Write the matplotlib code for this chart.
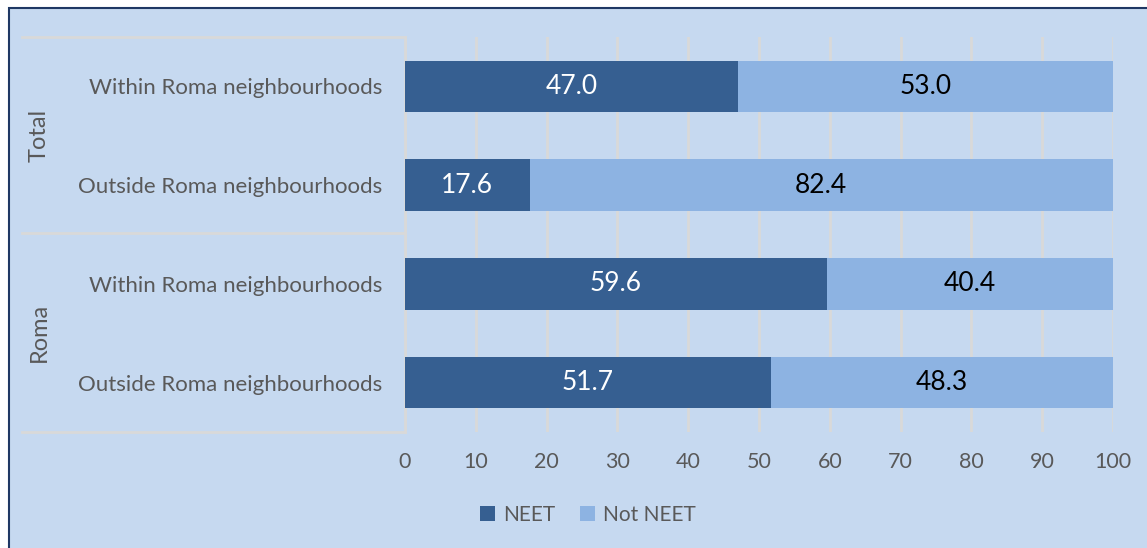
import matplotlib.pyplot as plt
from matplotlib.patches import Rectangle
from matplotlib.lines import Line2D
import numpy as np

plt.rcParams['font.family'] = ['Lato', 'DejaVu Sans']

groups = ['Total', 'Roma']
categories = ['Within Roma neighbourhoods', 'Outside Roma neighbourhoods',
              'Within Roma neighbourhoods', 'Outside Roma neighbourhoods']
neet = [47.0, 17.6, 59.6, 51.7]
not_neet = [53.0, 82.4, 40.4, 48.3]
xticks = [0, 10, 20, 30, 40, 50, 60, 70, 80, 90, 100]

bg = '#C6D9F0'
dark = '#365F91'
light = '#8DB3E2'
grid_c = '#D9D9D9'
txt = '#595959'

W, H = 1147, 548
fig = plt.figure(figsize=(W / 100, H / 100), dpi=100)
fig.patch.set_facecolor('white')
fig.patches.append(Rectangle((8.5 / W, -0.1), 1.2, 1 - 8.5 / H + 0.1, transform=fig.transFigure,
                             facecolor=bg, edgecolor='#1F3864', linewidth=1.5, zorder=-1))

ax = fig.add_axes([405 / W, 1 - 432 / H, (1113 - 405) / W, (432 - 37) / H])
ax.set_facecolor(bg)

y = np.arange(len(categories))
b1 = ax.barh(y, neet, height=0.52, color=dark, label='NEET', zorder=3)
b2 = ax.barh(y, not_neet, left=neet, height=0.52, color=light, label='Not NEET', zorder=3)

for i in range(len(categories)):
    ax.text(neet[i] / 2, y[i], f'{neet[i]:.1f}', ha='center', va='center',
            color='white', fontsize=19, zorder=4)
    ax.text(neet[i] + not_neet[i] / 2, y[i], f'{not_neet[i]:.1f}', ha='center', va='center',
            color='black', fontsize=19, zorder=4)

ax.set_xlim(0, 100)
ax.set_ylim(len(categories) - 0.5, -0.5)
ax.set_xticks(xticks)
ax.set_yticks(y)
ax.set_yticklabels(categories)
ax.tick_params(axis='y', length=0, pad=16.5, labelsize=16, labelcolor=txt)
ax.tick_params(axis='x', length=0, pad=14.5, labelsize=15.5, labelcolor=txt)
ax.xaxis.grid(True, color=grid_c, linewidth=2, zorder=0)
for s in ['top', 'right', 'bottom']:
    ax.spines[s].set_visible(False)
ax.spines['left'].set_color(grid_c)
ax.spines['left'].set_linewidth(2)

# group separators and group labels on the category axis
for yy in [37, 233, 432]:
    fig.add_artist(Line2D([22 / W, 405 / W], [1 - yy / H, 1 - yy / H],
                          color=grid_c, linewidth=2))
fig.text(39 / W, 1 - 135 / H, groups[0], rotation=90, ha='center', va='center',
         fontsize=17, color=txt)
fig.text(39 / W, 1 - 332 / H, groups[1], rotation=90, ha='center', va='center',
         fontsize=17, color=txt)

fig.legend(handles=[b1, b2], loc='center', bbox_to_anchor=(588 / W, 1 - 515 / H),
           ncol=2, frameon=False, fontsize=15, labelcolor=txt,
           handlelength=0.7, handleheight=0.7, handletextpad=0.4, columnspacing=1.2)

fig.savefig('out.png', dpi=100)
